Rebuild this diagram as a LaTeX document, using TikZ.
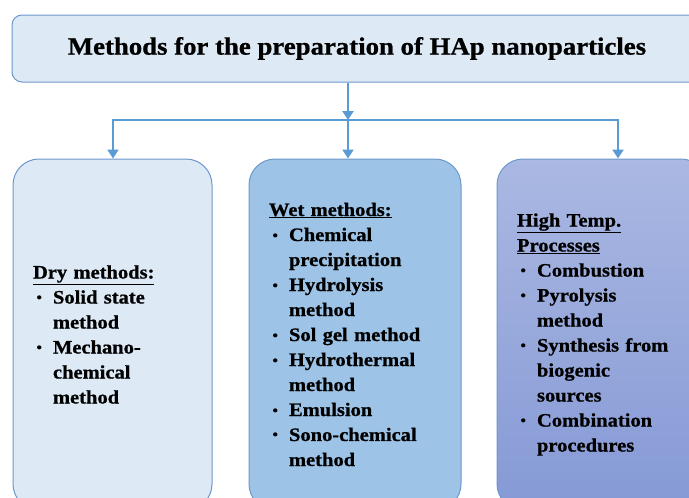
\documentclass[tikz,border=0pt]{standalone}
\usepackage{fontspec}
\setmainfont{Liberation Serif}[FakeStretch=1.08,BoldFeatures={FakeBold=0.8}]
\usetikzlibrary{arrows.meta,calc}
\definecolor{arrowblue}{HTML}{5B9BD5}
\definecolor{edgeblue}{HTML}{6E98CC}
\definecolor{lightfill}{HTML}{DDEAF6}
\definecolor{wetfill}{HTML}{9DC3E6}
\definecolor{hightop}{HTML}{AAB8E2}
\definecolor{highbot}{HTML}{8599D5}
\newcommand\bitem[1]{\makebox[20pt][l]{\hspace{3pt}{\mdseries\fontsize{17}{17}\selectfont\textbullet}}#1}
\newcommand\bcont[1]{\hspace*{20pt}#1}
\begin{document}
\begin{tikzpicture}[x=1pt,y=1pt,
  arr/.style={draw=arrowblue, line width=2.8pt, -{Triangle[length=9pt,width=11pt]}},
  link/.style={draw=arrowblue, line width=2.8pt, line cap=rect},
  titlebox/.style={draw=edgeblue, line width=1pt, fill=lightfill, rounded corners=10pt,
    minimum width=690pt, minimum height=67pt, inner sep=0pt,
    font=\fontsize{24.8}{30}\selectfont\bfseries},
  catbox/.style={draw=edgeblue, line width=1pt, rounded corners=26pt,
    minimum height=351pt, inner xsep=20pt, inner ysep=0pt, align=left,
    font=\fontsize{19}{25}\selectfont\bfseries},
]
\clip (0,0) rectangle (689,-498);
\fill[white] (0,0) rectangle (689,-498);
\node[titlebox] (top) at (357,-48.5) {Methods for the preparation of HAp nanoparticles};
\node[catbox, fill=lightfill, text width=159pt] (dry) at (112.5,-334.5)
  {\underline{Dry methods:}\\
   \bitem{Solid state}\\
   \bcont{method}\\
   \bitem{Mechano-}\\
   \bcont{chemical}\\
   \bcont{method}};
\node[catbox, fill=wetfill, text width=172pt] (wet) at (355,-334.5)
  {\underline{Wet methods:}\\
   \bitem{Chemical}\\
   \bcont{precipitation}\\
   \bitem{Hydrolysis}\\
   \bcont{method}\\
   \bitem{Sol gel method}\\
   \bitem{Hydrothermal}\\
   \bcont{method}\\
   \bitem{Emulsion}\\
   \bitem{Sono-chemical}\\
   \bcont{method}};
\node[catbox, top color=hightop, bottom color=highbot, text width=170pt] (high) at (602,-334.5)
  {\underline{High Temp.}\\
   \underline{Processes}\\
   \bitem{Combustion}\\
   \bitem{Pyrolysis}\\
   \bcont{method}\\
   \bitem{Synthesis from}\\
   \bcont{biogenic}\\
   \bcont{sources}\\
   \bitem{Combination}\\
   \bcont{procedures}};
\coordinate (hub) at (348,-120);
\coordinate (hl) at (113,-120);
\coordinate (hr) at (618,-120);
\draw[arr] (top.south -| hub) -- (hub);
\draw[link] (hl) -- (hr);
\draw[arr] (hl) -- (hl |- dry.north);
\draw[arr] (hub) -- (hub |- wet.north);
\draw[arr] (hr) -- (hr |- high.north);
\end{tikzpicture}
\end{document}
